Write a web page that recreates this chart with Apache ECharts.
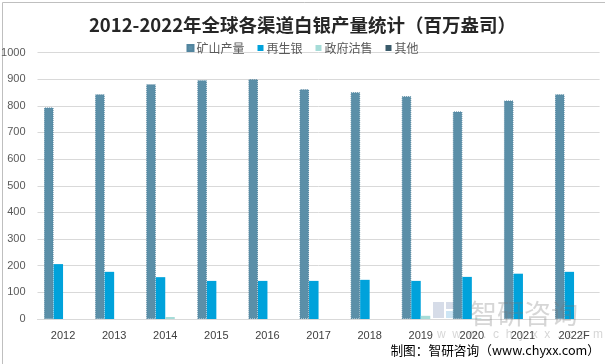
<!DOCTYPE html>
<html><head><meta charset="utf-8">
<script src="https://cdn.jsdelivr.net/npm/echarts@6/dist/echarts.min.js"></script>
<style>html,body{margin:0;padding:0;background:#fff}#c{width:605px;height:364px}</style>
</head><body><div id="c"></div>
<script>
const categories = ['2012','2013','2014','2015','2016','2017','2018','2019','2020','2021','2022F'];
const mining   = [794, 843, 881, 896, 900, 862, 851, 836, 779, 820, 843];
const recycled = [206, 177, 157, 143, 143, 143, 147, 143, 158, 170, 177];
const govSales = [0, 0, 7.5, 0, 0, 0, 0, 12, 2, 0, 0];
const others   = [0, 0, 0, 0, 0, 0, 0, 0, 0, 0, 0];
const yTicks = { min: 0, max: 1000, interval: 100 };

const chart = echarts.init(document.getElementById('c'), null, {renderer:'canvas'});
const cjk = '"Microsoft YaHei","Noto Sans CJK SC",sans-serif';
chart.setOption({
  animation: false,
  title: { text: '2012-2022年全球各渠道白银产量统计（百万盎司）', left: 'center', top: 11,
    textStyle: { fontSize: 18.5, fontWeight: 'bold', color: '#262626', fontFamily: cjk } },
  legend: { top: 37, left: 'center', itemWidth: 6, itemHeight: 6, itemGap: 13, icon: 'rect',
    textStyle: { fontSize: 12, color: '#595959', fontFamily: cjk, padding: [0,0,0,-2] },
    data: ['矿山产量','再生银','政府沽售','其他'] },
  grid: { left: 37.5, right: 5.4, top: 52.5, bottom: 45, containLabel: false, outerBoundsMode: 'none' },
  xAxis: { type: 'category', data: categories,
    axisLine: { lineStyle: { color: '#d9d9d9' } }, axisTick: { show: false },
    axisLabel: { fontSize: 11, color: '#404040', margin: 11, fontFamily: 'Liberation Sans, sans-serif' } },
  yAxis: { type: 'value', min: yTicks.min, max: yTicks.max, interval: yTicks.interval,
    axisLine: { show: false }, axisTick: { show: false },
    splitLine: { lineStyle: { color: '#d9d9d9', width: 1 } },
    axisLabel: { fontSize: 11, color: '#595959', margin: 12, fontFamily: 'Liberation Sans, sans-serif',
      formatter: v => String(v) } },
  series: [
    { name: '矿山产量', type: 'bar', data: mining, barGap: '0%', barCategoryGap: '25.6%',
      itemStyle: { color: '#5b8fa8', borderColor: '#52859f', borderWidth: 1, borderType: 'dotted' } },
    { name: '再生银', type: 'bar', data: recycled, itemStyle: { color: '#00a2db' } },
    { name: '政府沽售', type: 'bar', data: govSales, itemStyle: { color: '#a6dcd8' } },
    { name: '其他', type: 'bar', data: others, itemStyle: { color: '#3a5b6b' } }
  ],
  graphic: [
    { type: 'rect', left: 0, top: 0, z: 0, silent: true, shape: { width: 604, height: 363 },
      style: { fill: null, stroke: '#bfbfbf', lineWidth: 1 } },
    { type: 'group', left: 433, top: 302, z: 100, children: [
      { type: 'rect', shape: { x: 0, y: 0, width: 11, height: 16 }, style: { fill: 'rgba(120,140,180,0.3)' } },
      { type: 'rect', shape: { x: 13, y: 0, width: 12, height: 7 }, style: { fill: 'rgba(120,140,180,0.3)' } },
      { type: 'rect', shape: { x: 13, y: 9, width: 12, height: 7 }, style: { fill: 'rgba(90,170,220,0.3)' } }
    ]},
    { type: 'text', left: 470, top: 300, z: 100, style: { text: '智研咨询', fontSize: 27, fill: 'rgba(120,120,120,0.3)', fontFamily: cjk } },
    { type: 'text', left: 437, top: 329, z: 100, style: { text: 'w  w  w  .  c  h  y  x  x  .  c  o  m', fontSize: 12, fill: 'rgba(120,120,120,0.3)', fontFamily: 'Liberation Sans, sans-serif' } },
    { type: 'text', right: 5, top: 344, z: 100, style: { text: '制图：智研咨询（www.chyxx.com）', fontSize: 12.7, fill: '#000', fontFamily: cjk } }
  ]
});
</script></body></html>
